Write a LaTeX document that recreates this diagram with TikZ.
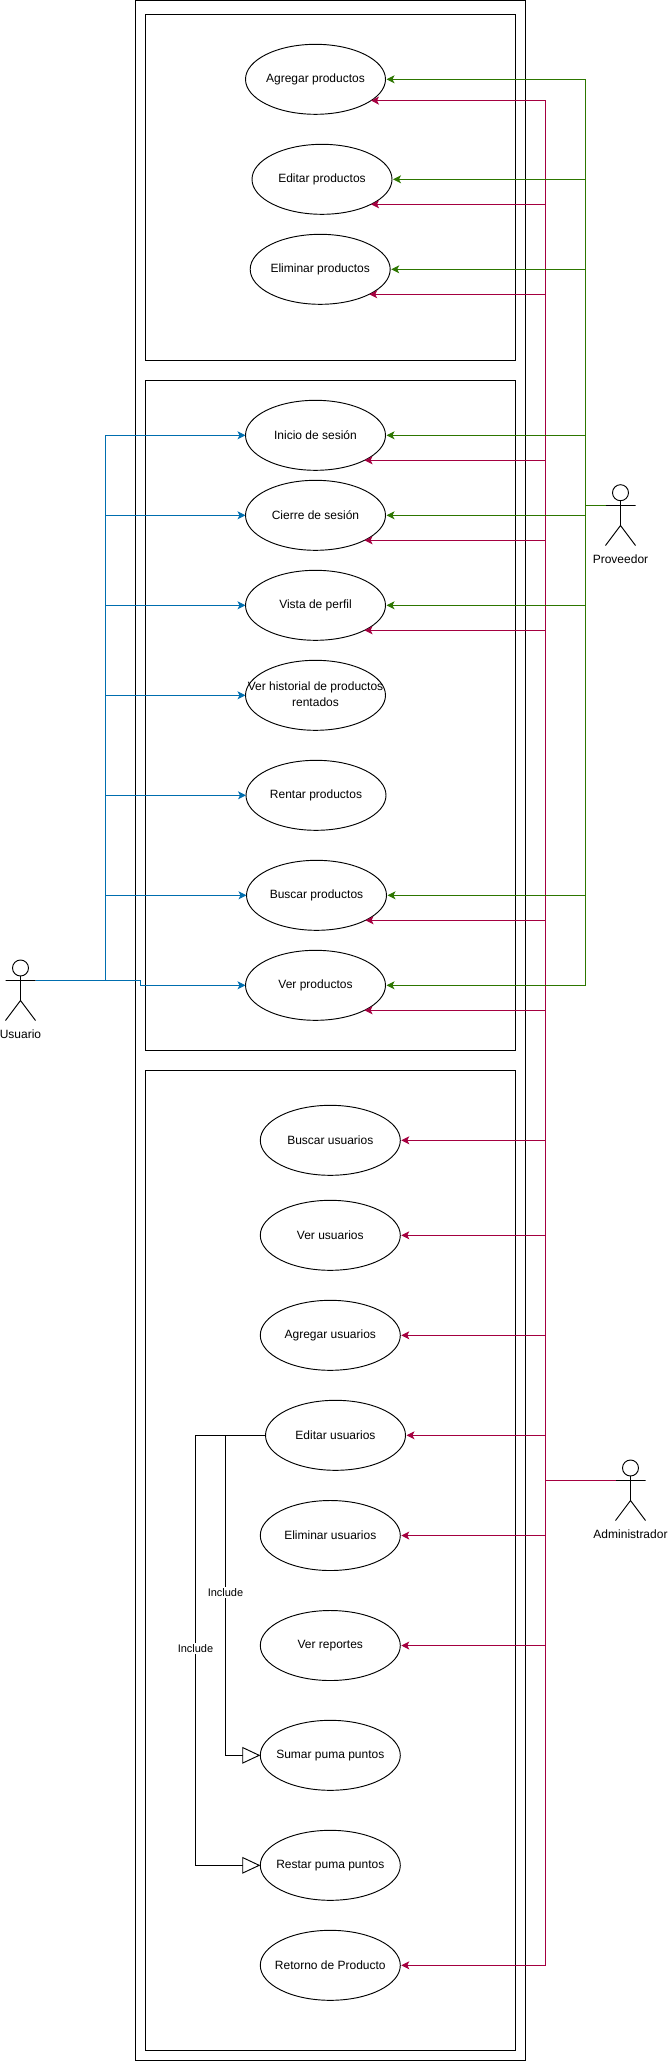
\documentclass[tikz,border=0pt]{standalone}
\usepackage{fontspec}
\setmainfont{Liberation Sans}
\usetikzlibrary{arrows.meta,shapes.geometric}
\definecolor{crim}{HTML}{A50040}
\definecolor{grn}{HTML}{2D7600}
\definecolor{blu}{HTML}{006EAF}
\newcommand{\uctext}[1]{\raisebox{-0.9pt}{\makebox[0pt]{#1}}}
\tikzset{
  uc/.style={ellipse,draw=black,line width=0.7pt,minimum width=105pt,minimum height=52.5pt,inner sep=0pt,outer sep=0pt,font=\fontsize{9}{12}\selectfont},
  frame/.style={rectangle,draw=black,line width=0.75pt,inner sep=0pt,outer sep=0pt},
  head/.style={circle,draw=black,line width=0.7pt,minimum size=12pt,inner sep=0pt,outer sep=0pt},
  limb/.style={draw=black,line width=0.7pt},
  actorlabel/.style={inner sep=0pt,font=\fontsize{9}{12}\selectfont},
  tip/.style={-{Stealth[length=6pt,width=6pt,inset=1.5pt]}},
  crimline/.style={draw=crim,line width=0.7pt,tip},
  grnline/.style={draw=grn,line width=0.7pt,tip},
  bluline/.style={draw=blu,line width=0.7pt,tip},
  incl/.style={draw=black,line width=0.7pt,-{Triangle[open,length=13.5pt,width=12.5pt,fill=white]}},
  incllabel/.style={fill=white,inner sep=1pt,font=\fontsize{8.25}{10}\selectfont},
}
\begin{document}
\begin{tikzpicture}[x=0.75pt,y=-0.75pt]
\useasboundingbox (0,0) rectangle (668,2061);
% frames
\node[frame,minimum width=292.3pt,minimum height=1545pt] (outer) at (330.5,1030.3) {};
\node[frame,minimum width=277.6pt,minimum height=259.3pt] (boxa) at (330.6,187.15) {};
\node[frame,minimum width=277.6pt,minimum height=502.5pt] (boxb) at (330.6,715) {};
\node[frame,minimum width=277.6pt,minimum height=735.4pt] (boxc) at (330.6,1560.25) {};
% use cases
\node[uc] (agp) at (315.5,79.3) {\uctext{Agregar productos}};
\node[uc] (edp) at (322,179.3) {\uctext{Editar productos}};
\node[uc] (elp) at (320.2,269.3) {\uctext{Eliminar productos}};
\node[uc] (ini) at (315.5,435.3) {\uctext{Inicio de sesión}};
\node[uc] (cie) at (315.5,515.3) {\uctext{Cierre de sesión}};
\node[uc] (vis) at (315.5,605.3) {\uctext{Vista de perfil}};
\node[uc] (his) at (315.5,695.3) {\uctext{\begin{tabular}{@{}c@{}}Ver historial de productos\\rentados\end{tabular}}};
\node[uc] (ren) at (316,795.3) {\uctext{Rentar productos}};
\node[uc] (bup) at (316.5,895.3) {\uctext{Buscar productos}};
\node[uc] (vep) at (315.5,985.3) {\uctext{Ver productos}};
\node[uc] (buu) at (330.3,1140.3) {\uctext{Buscar usuarios}};
\node[uc] (veu) at (330.3,1235.3) {\uctext{Ver usuarios}};
\node[uc] (agu) at (330.3,1335.3) {\uctext{Agregar usuarios}};
\node[uc] (edu) at (335.5,1435.3) {\uctext{Editar usuarios}};
\node[uc] (elu) at (330.3,1535.5) {\uctext{Eliminar usuarios}};
\node[uc] (ver) at (330.3,1645.5) {\uctext{Ver reportes}};
\node[uc] (sum) at (330.3,1755.3) {\uctext{Sumar puma puntos}};
\node[uc] (res) at (330.3,1865.3) {\uctext{Restar puma puntos}};
\node[uc] (ret) at (330.3,1965.3) {\uctext{Retorno de Producto}};
% actors
\node[head] (uhead) at (20.5,968) {};
\coordinate (uhip) at (20.5,1000.5);
\coordinate (uhand) at (35.5,980.5);
\coordinate (uarm) at (5.5,980.5);
\coordinate (ulegl) at (5.5,1020.5);
\coordinate (ulegr) at (35.5,1020.5);
\node[actorlabel] (ulab) at (20.5,1033.7) {Usuario};
\draw[limb] (uhead) -- (uhip) (uarm) -- (uhand) (ulegl) -- (uhip) -- (ulegr);

\node[head] (phead) at (620.5,492.7) {};
\coordinate (phip) at (620.5,525.5);
\coordinate (phand) at (605.5,505.5);
\coordinate (parm) at (635.5,505.5);
\coordinate (plegl) at (605.5,545.5);
\coordinate (plegr) at (635.5,545.5);
\node[actorlabel] (plab) at (620.5,558.7) {Proveedor};
\draw[limb] (phead) -- (phip) (phand) -- (parm) (plegl) -- (phip) -- (plegr);

\node[head] (ahead) at (630.5,1468) {};
\coordinate (ahip) at (630.5,1500.5);
\coordinate (ahand) at (615.5,1480.5);
\coordinate (aarm) at (645.5,1480.5);
\coordinate (alegl) at (615.5,1520.5);
\coordinate (alegr) at (645.5,1520.5);
\node[actorlabel] (alab) at (630.5,1534) {Administrador};
\draw[limb] (ahead) -- (ahip) (ahand) -- (aarm) (alegl) -- (ahip) -- (alegr);
% spines
\coordinate (uspine) at (105.5,980.5);
\coordinate (ujog) at (140.5,980.5);
\coordinate (pspine) at (585.5,505.5);
\coordinate (aspine) at (545.5,1480.5);
% administrator
\draw[crimline] (ahand) -- (aspine) |- (agp.-21);
\foreach \n in {edp,elp,ini,cie,vis,bup,vep}
  \draw[crimline] (ahand) -- (aspine) |- (\n.-27);
\foreach \n in {buu,veu,agu,edu,elu,ver,ret}
  \draw[crimline] (ahand) -- (aspine) |- ([xshift=0.75pt]\n.east);
% provider
\foreach \n in {agp,edp,elp,ini,cie,vis,bup,vep}
  \draw[grnline] (phand) -- (pspine) |- ([xshift=0.75pt]\n.east);
% user
\foreach \n in {ini,cie,vis,his,ren,bup}
  \draw[bluline] (uhand) -- (uspine) |- (\n.west);
\draw[bluline] (uhand) -- (ujog) |- (vep.west);
% includes
\coordinate (ia) at (225.5,1435.3);
\coordinate (ib) at (195.5,1435.3);
\draw[incl] (edu.west) -- (ia) |- (sum.west) node[pos=0.246,incllabel] (la) {Include};
\draw[incl] (edu.west) -- (ib) |- (res.west) node[pos=0.248,incllabel] (lb) {Include};
\end{tikzpicture}
\end{document}
